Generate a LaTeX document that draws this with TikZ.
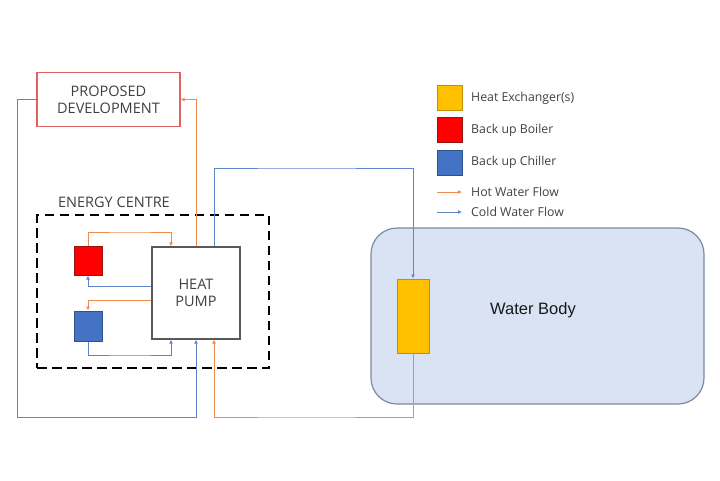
\documentclass[tikz,border=0pt]{standalone}
\usepackage{fontspec}
\setmainfont{Open Sans}
\newfontfamily\arialf{Liberation Sans}
\usetikzlibrary{arrows.meta}
\definecolor{hotc}{HTML}{F08A4B}
\definecolor{coldc}{HTML}{5F84CC}
\definecolor{txt}{HTML}{404040}
\definecolor{wbfill}{HTML}{DAE3F3}
\definecolor{wbdraw}{HTML}{7A8AA6}
\definecolor{hxfill}{HTML}{FFC000}
\definecolor{hxdraw}{HTML}{BF9000}
\definecolor{bdraw}{HTML}{961414}
\definecolor{cfill}{HTML}{4472C4}
\definecolor{cdraw}{HTML}{2F528F}
\definecolor{pddraw}{HTML}{E06064}
\tikzset{
  flow/.style={line width=0.8pt,-{Latex[length=4pt,width=4pt]}},
  hot/.style={flow,draw=hotc},
  cold/.style={flow,draw=coldc},
  sq/.style={draw,line width=1pt,minimum width=25pt,minimum height=25pt,inner sep=0pt},
  legtext/.style={anchor=west,font=\fontsize{12.3}{14}\selectfont,text=txt,inner sep=0pt},
  lbl/.style={font=\fontsize{14.5}{17}\selectfont,text=txt,align=center}
}
\begin{document}
\begin{tikzpicture}[x=1pt,y=-1pt]
\useasboundingbox (0,0) rectangle (720,480);
% Water body
\node[draw=wbdraw,fill=wbfill,line width=1.2pt,rounded corners=26pt,minimum width=333pt,minimum height=176pt] (wb) at (537.5,316) {};
\node[font=\arialf\fontsize{16.5}{18}\selectfont,text=black!90] (wbt) at (533,310) {Water Body};
% Energy centre
\node[draw=black,dash pattern=on 9.5pt off 5.5pt,line width=2.6pt,minimum width=232pt,minimum height=153pt] (ec) at (153,291.5) {};
\node[lbl] (ect) at (114,202) {ENERGY CENTRE};
% Proposed development
\node[draw=pddraw,line width=1.2pt,minimum width=143pt,minimum height=54pt,lbl,inner sep=0pt] (pd) at (108.5,99.5) {PROPOSED\\[0pt]DEVELOPMENT};
% Heat pump
\node[draw=black!65,fill=white,line width=1.2pt,minimum width=88pt,minimum height=92pt,lbl,inner sep=0pt] (hp) at (196,293) {HEAT\\[0pt]PUMP};
% Boiler and chiller
\node[draw=bdraw,fill=red,line width=1pt,minimum width=28pt,minimum height=29pt,inner sep=0pt] (boiler) at (88,260.5) {};
\node[draw=cdraw,fill=cfill,line width=1pt,minimum width=28pt,minimum height=30pt,inner sep=0pt] (chiller) at (88,326) {};
% Heat exchanger
\node[draw=hxdraw,fill=hxfill,line width=1pt,minimum width=32pt,minimum height=74pt,inner sep=0pt] (hx) at (413,316) {};
% Legend
\node[sq,draw=hxdraw,fill=hxfill] (lhx) at (449.5,97.5) {};
\node[sq,draw=bdraw,fill=red] (lb) at (449.5,130) {};
\node[sq,draw=cdraw,fill=cfill] (lc) at (449.5,162.5) {};
\node[legtext] (lhxt) at (471,98) {Heat Exchanger(s)};
\node[legtext] (lbt) at (471,130) {Back up Boiler};
\node[legtext] (lct) at (471,162) {Back up Chiller};
\node[legtext] (lht) at (471,192) {Hot Water Flow};
\node[legtext] (lcwt) at (471,212) {Cold Water Flow};
\coordinate (lh1) at (437,192);
\coordinate (lh2) at (462,192);
\coordinate (lc1) at (437,212);
\coordinate (lc2) at (462,212);
\draw[hot] (lh1) -- (lh2);
\draw[cold] (lc1) -- (lc2);
% Connectors
\coordinate (c1) at (17,417);
\coordinate (c2) at (300,168);
\coordinate (c3) at (300,417);
\coordinate (c4) at (130,232);
\coordinate (c5) at (130,355);
\draw[cold] (pd.west) -| (c1) -| (hp.south);
\draw[hot] (hp.north) |- (pd.east);
\draw[cold] ([xshift=18pt]hp.north) |- (c2) -| (hx.north);
\draw[hot] (hx.south) |- (c3) -| ([xshift=18pt]hp.south);
\draw[hot] (boiler.north) |- (c4) -| ([xshift=-25pt]hp.north);
\draw[cold] ([yshift=7pt]hp.west) -| (boiler.south);
\draw[hot] ([yshift=-7pt]hp.west) -| (chiller.north);
\draw[cold] (chiller.south) |- (c5) -| ([xshift=-25pt]hp.south);
\end{tikzpicture}
\end{document}
